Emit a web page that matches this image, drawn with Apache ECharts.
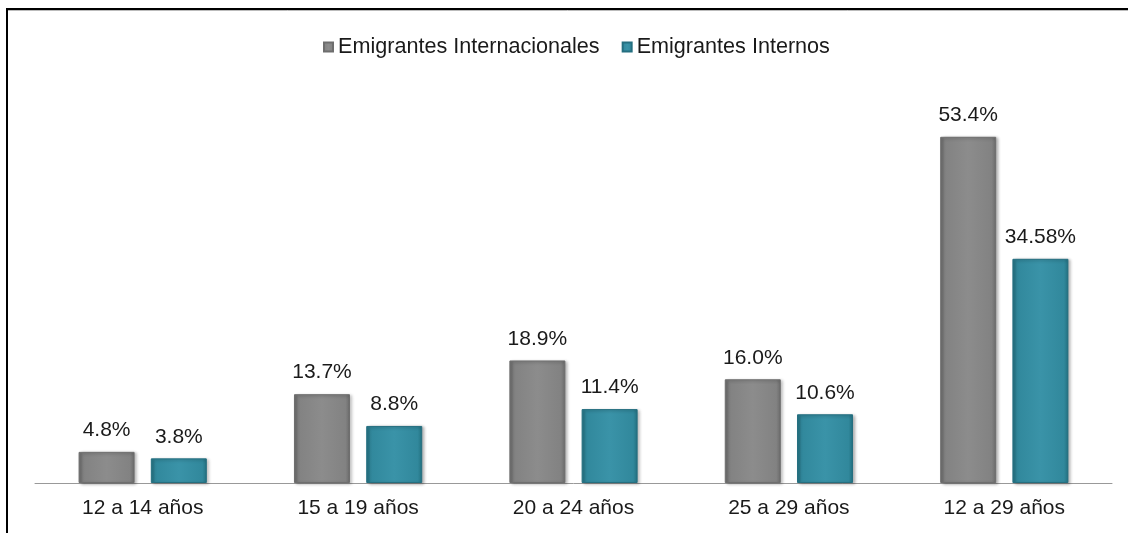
<!DOCTYPE html>
<html>
<head>
<meta charset="utf-8">
<script src="https://cdn.jsdelivr.net/npm/echarts@6/dist/echarts.min.js"></script>
<style>
html,body{margin:0;padding:0;background:#fff;}
#chart{width:1128px;height:533px;}
</style>
</head>
<body>
<div id="chart"></div>
<script>
const categories = ['12 a 14 años', '15 a 19 años', '20 a 24 años', '25 a 29 años', '12 a 29 años'];
const seriesNames = ['Emigrantes Internacionales', 'Emigrantes Internos'];
const internacionales = [4.8, 13.7, 18.9, 16.0, 53.4];
const internos = [3.8, 8.8, 11.4, 10.6, 34.58];
const internacionalesLabels = ['4.8%', '13.7%', '18.9%', '16.0%', '53.4%'];
const internosLabels = ['3.8%', '8.8%', '11.4%', '10.6%', '34.58%'];

const FONT = 'Liberation Sans, Arial, sans-serif';

function bevel(edge, mid, light) {
  return {
    type: 'linear', x: 0, y: 0, x2: 1, y2: 0,
    colorStops: [
      {offset: 0, color: edge},
      {offset: 0.08, color: mid},
      {offset: 0.5, color: light},
      {offset: 0.92, color: mid},
      {offset: 1, color: edge}
    ]
  };
}

const chart = echarts.init(document.getElementById('chart'), null, {renderer: 'canvas'});
chart.setOption({
  animation: false,
  backgroundColor: '#fff',
  textStyle: {fontFamily: FONT},
  legend: {
    top: 31,
    left: 318,
    itemWidth: 9,
    itemHeight: 9,
    itemGap: 22,
    icon: 'rect',
    textStyle: {fontSize: 21.6, color: '#1a1a1a', fontFamily: FONT, padding: [0, 0, 0, 0]},
    data: seriesNames
  },
  grid: {left: 35, right: 16, top: 94, bottom: 50, containLabel: false},
  xAxis: {
    type: 'category',
    data: categories,
    axisLine: {lineStyle: {color: '#999', width: 1}},
    axisTick: {show: false},
    axisLabel: {fontSize: 21, color: '#1a1a1a', margin: 15, fontFamily: FONT}
  },
  yAxis: {
    type: 'value', min: 0, max: 60,
    show: false,
    splitLine: {show: false}
  },
  series: [
    {
      name: seriesNames[0],
      type: 'bar',
      data: internacionales,
      barWidth: 56,
      barGap: '29%',
      color: '#808080',
      itemStyle: {
        color: bevel('#6a6a6a', '#828282', '#8c8c8c'),
        borderColor: '#6e6e6e', borderWidth: 1,
        shadowColor: 'rgba(0,0,0,0.3)', shadowBlur: 3, shadowOffsetX: 2, shadowOffsetY: 1
      },
      label: {
        show: true, position: 'top', distance: 11,
        fontSize: 21, color: '#1a1a1a', fontFamily: FONT,
        formatter: p => internacionalesLabels[p.dataIndex]
      }
    },
    {
      name: seriesNames[1],
      type: 'bar',
      data: internos,
      barWidth: 56,
      color: '#31869b',
      itemStyle: {
        color: bevel('#23707f', '#31889c', '#3a93a8'),
        borderColor: '#256f80', borderWidth: 1,
        shadowColor: 'rgba(0,0,0,0.3)', shadowBlur: 3, shadowOffsetX: 2, shadowOffsetY: 1
      },
      label: {
        show: true, position: 'top', distance: 11,
        fontSize: 21, color: '#1a1a1a', fontFamily: FONT,
        formatter: p => internosLabels[p.dataIndex]
      }
    }
  ],
  graphic: [
    {type: 'line', shape: {x1: 7, y1: 9, x2: 1128, y2: 9}, style: {stroke: '#000', lineWidth: 2}},
    {type: 'line', shape: {x1: 7, y1: 10.5, x2: 1128, y2: 10.5}, style: {stroke: '#bbb', lineWidth: 1}},
    {type: 'line', shape: {x1: 7, y1: 8, x2: 7, y2: 533}, style: {stroke: '#000', lineWidth: 2}}
  ]
});
</script>
</body>
</html>
